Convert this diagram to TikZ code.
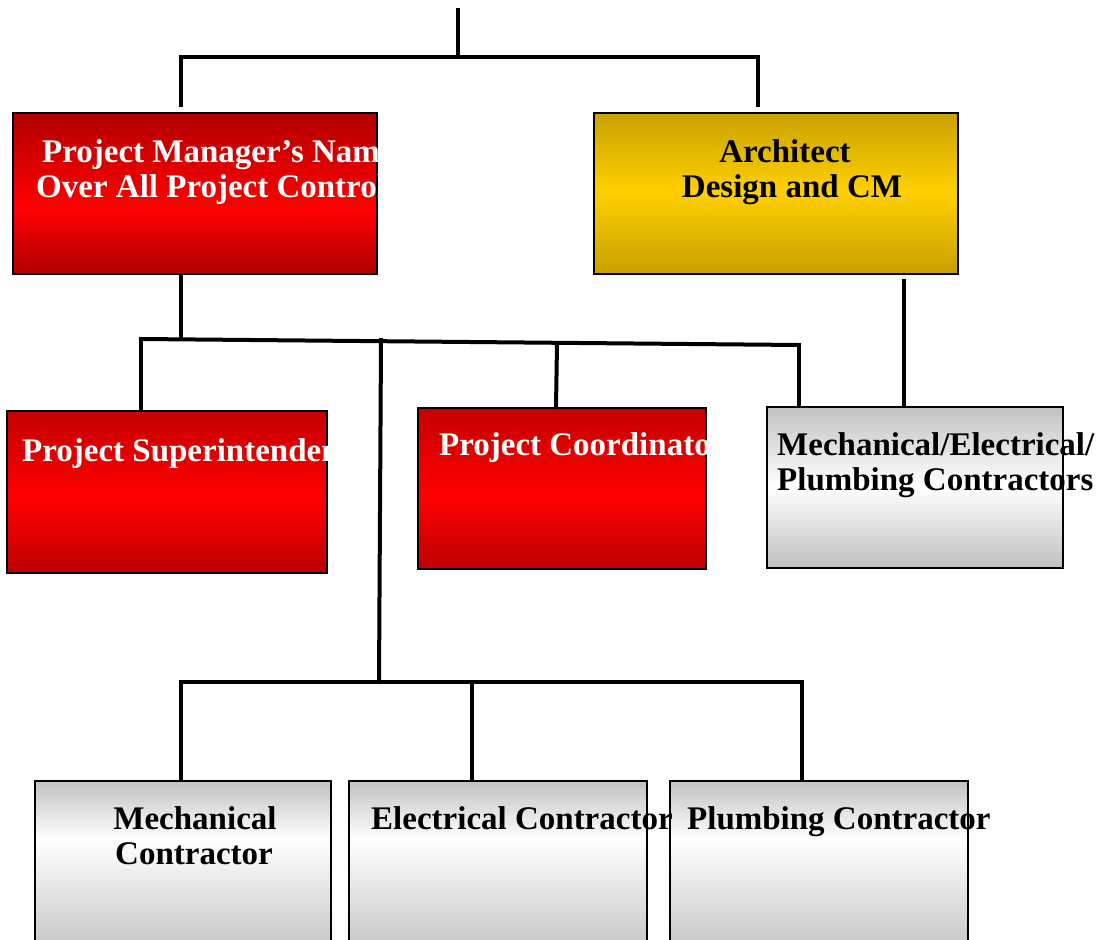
\documentclass[tikz,border=0pt]{standalone}
\usepackage{fontspec}
\setmainfont{Liberation Serif}
\definecolor{rtop}{RGB}{196,0,0}
\definecolor{rtopd}{RGB}{176,0,0}
\definecolor{rmid}{RGB}{255,0,0}
\definecolor{rbot}{RGB}{190,0,0}
\definecolor{gtop}{RGB}{200,160,0}
\definecolor{gmid}{RGB}{255,208,0}
\definecolor{gbot}{RGB}{200,160,0}
\definecolor{ytop}{RGB}{192,192,192}
\definecolor{ymid}{RGB}{255,255,255}
\definecolor{ybot}{RGB}{192,192,192}
% vertical gradient: x1,y1,x2,y2,top,mid,bottom,midpos
\newcommand{\vgrad}[8]{%
  \foreach \i in {0,...,79}{%
    \pgfmathsetmacro{\gt}{(\i+0.5)/80}%
    \pgfmathsetmacro{\gya}{#2+(#4-#2)*\i/80}%
    \pgfmathsetmacro{\gyb}{#2+(#4-#2)*(\i+1)/80+0.6}%
    \ifdim\gt pt<#8pt
      \pgfmathsetmacro{\gp}{100*(1-\gt/#8)}%
      \fill[#5!\gp!#6] (#1,\gya) rectangle (#3,\gyb);
    \else
      \pgfmathsetmacro{\gp}{100*(\gt-#8)/(1-#8)}%
      \fill[#7!\gp!#6] (#1,\gya) rectangle (#3,\gyb);
    \fi
  }%
}
\begin{document}
\begin{tikzpicture}[x=1pt,y=-1pt,
  conn/.style={line width=4pt, line cap=rect},
  box/.style={draw=black, line width=2pt, rectangle, inner sep=0pt, anchor=north west},
  lbl/.style={inner sep=0pt, font=\bfseries\fontsize{33}{35}\selectfont},
  wlbl/.style={lbl, text=white},
  blbl/.style={lbl, text=black}
]
\useasboundingbox (0,0) rectangle (1104,940);
\clip (0,0) rectangle (1104,940);

% gradients
\vgrad{12}{112}{376}{273}{rtopd}{rmid}{rtopd}{0.6}
\vgrad{593}{112}{957}{273}{gtop}{gmid}{gbot}{0.5}
\vgrad{6}{410}{326}{572}{rtop}{rmid}{rbot}{0.55}
\vgrad{417}{407}{705}{568}{rtop}{rmid}{rbot}{0.55}
\vgrad{766}{406}{1062}{567}{ytop}{ymid}{ybot}{0.5}
\vgrad{34}{780}{330}{960}{ytop}{ymid}{ybot}{0.33}
\vgrad{348}{780}{646}{960}{ytop}{ymid}{ybot}{0.33}
\vgrad{669}{780}{967}{960}{ytop}{ymid}{ybot}{0.33}

% boxes
\node[box, minimum width=364pt, minimum height=161pt] (pm) at (12,112) {};
\node[box, minimum width=364pt, minimum height=161pt] (ar) at (593,112) {};
\node[box, minimum width=320pt, minimum height=162pt] (sup) at (6,410) {};
\node[box, minimum width=288pt, minimum height=161pt] (coo) at (417,407) {};
\node[box, minimum width=296pt, minimum height=161pt] (mep) at (766,406) {};
\node[box, minimum width=296pt, minimum height=180pt] (mc) at (34,780) {};
\node[box, minimum width=298pt, minimum height=180pt] (ec) at (348,780) {};
\node[box, minimum width=298pt, minimum height=180pt] (pc) at (669,780) {};

% clipped texts of red boxes
\begin{scope}
  \clip (pm.north west) rectangle (pm.south east);
  \node[wlbl, anchor=base west] (pmt1) at (42,162) {Project Manager’s Name};
  \node[wlbl, anchor=base west] (pmt2) at (36,197) {Over All Project Control};
\end{scope}
\begin{scope}
  \clip (sup.north west) rectangle (sup.south east);
  \node[wlbl, anchor=base west] (supt) at (22,461) {Project Superintendent};
\end{scope}
\begin{scope}
  \clip (coo.north west) rectangle (coo.south east);
  \node[wlbl, anchor=base west] (coot) at (439,455) {Project Coordinator};
\end{scope}

% other texts
\node[blbl, anchor=base] (art1) at (785,162) {Architect};
\node[blbl, anchor=base] (art2) at (792,197) {Design and CM};
\node[blbl, anchor=base west] (mept1) at (777,455) {Mechanical/Electrical/};
\node[blbl, anchor=base west] (mept2) at (777,490) {Plumbing Contractors};
\node[blbl, anchor=base] (mct1) at (195,829) {Mechanical};
\node[blbl, anchor=base] (mct2) at (194,864) {Contractor};
\node[blbl, anchor=base west] (ect) at (371,829) {Electrical Contractor};
\node[blbl, anchor=base west] (pct) at (687,829) {Plumbing Contractor};

% connector points
\coordinate (top) at (458,10);
\coordinate (tj) at (458,57);
\coordinate (tl) at (181,57);
\coordinate (tr) at (758,57);
\coordinate (pmin) at (181,105);
\coordinate (arin) at (758,105);
\coordinate (pmout) at (181,275);
\coordinate (bj) at (181,338);
\coordinate (bl) at (141,339);
\coordinate (br) at (799,345);
\coordinate (bm) at (381,340);
\coordinate (bc) at (557,344);
\coordinate (supin) at (141,409);
\coordinate (cooin) at (556,407);
\coordinate (mepin) at (799,405);
\coordinate (arout) at (904,281);
\coordinate (mepin2) at (904,404);
\coordinate (lj) at (379,682);
\coordinate (ll) at (181,682);
\coordinate (lr) at (802,682);
\coordinate (lm) at (472,682);
\coordinate (mcin) at (181,779);
\coordinate (ecin) at (472,779);
\coordinate (pcin) at (802,779);

% connectors
\draw[conn] (top) -- (tj);
\draw[conn] (tl) -- (tr);
\draw[conn] (tl) -- (pmin);
\draw[conn] (tr) -- (arin);
\draw[conn] (pmout) -- (bj);
\draw[conn] (bl) -- (br);
\draw[conn] (bl) -- (supin);
\draw[conn] (bc) -- (cooin);
\draw[conn] (br) -- (mepin);
\draw[conn] (bm) -- (lj);
\draw[conn] (arout) -- (mepin2);
\draw[conn] (ll) -- (lr);
\draw[conn] (ll) -- (mcin);
\draw[conn] (lm) -- (ecin);
\draw[conn] (lr) -- (pcin);
\end{tikzpicture}
\end{document}
